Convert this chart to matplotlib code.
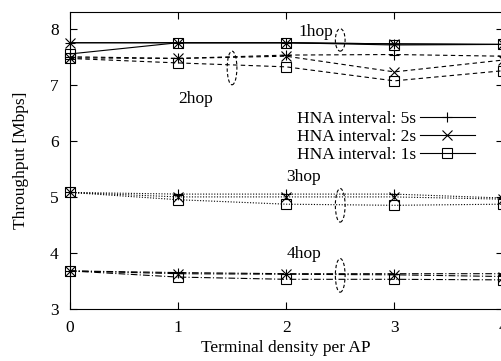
import matplotlib
matplotlib.use("Agg")
import matplotlib.pyplot as plt
from matplotlib.patches import Ellipse
from matplotlib.lines import Line2D

plt.rcParams['font.family'] = ['Liberation Serif', 'DejaVu Serif']
plt.rcParams['font.size'] = 12.5

density = [0, 1, 2, 3, 4]
intervals = ["HNA interval: 5s", "HNA interval: 2s", "HNA interval: 1s"]
markers = ['+', 'x', 's']

# throughput [Mbps] per hop count, one list per HNA interval (5s, 2s, 1s)
hop1 = [[7.75, 7.75, 7.75, 7.73, 7.72],
        [7.75, 7.75, 7.75, 7.73, 7.72],
        [7.55, 7.75, 7.75, 7.71, 7.72]]
hop2 = [[7.50, 7.47, 7.53, 7.54, 7.51],
        [7.48, 7.47, 7.51, 7.23, 7.44],
        [7.47, 7.39, 7.32, 7.07, 7.25]]
hop3 = [[5.08, 5.05, 5.05, 5.05, 4.98],
        [5.08, 5.00, 5.00, 5.00, 4.96],
        [5.08, 4.95, 4.87, 4.85, 4.87]]
hop4 = [[3.68, 3.65, 3.63, 3.63, 3.63],
        [3.68, 3.63, 3.62, 3.61, 3.58],
        [3.68, 3.57, 3.53, 3.53, 3.52]]

hop_labels = ["1hop", "2hop", "3hop", "4hop"]
label_pos = [(2.11, 7.95), (1.0, 6.75), (2.0, 5.36), (2.0, 3.98)]
ellipse_pos = [(2.5, 7.8, 0.4), (1.5, 7.3, 0.6), (2.5, 4.85, 0.6), (2.5, 3.6, 0.6)]

fig = plt.figure(figsize=(5.02, 3.61), dpi=100)
ax = fig.add_axes([0.139, 0.144, 0.862, 0.823])

styles = ['-', (0, (4, 3)), (0, (1, 1.5)), (0, (6, 2, 1, 2))]
for hop, ls in zip([hop1, hop2, hop3, hop4], styles):
    for vals, m in zip(hop, markers):
        ax.plot(density, vals, color='black', linestyle=ls, linewidth=0.8,
                marker=m, markersize=6.5, markerfacecolor='none',
                markeredgewidth=0.8, clip_on=False)

for (tx, ty), txt in zip(label_pos, hop_labels):
    ax.text(tx, ty, txt, ha='left', va='center')

for ex, ey, eh in ellipse_pos:
    ax.add_patch(Ellipse((ex, ey), 0.09, eh, fill=False, edgecolor='black',
                         linestyle=(0, (3, 2)), linewidth=0.8))

handles = [Line2D([], [], color='black', linewidth=0.8, marker=m, markersize=6.5,
                  markerfacecolor='none', markeredgewidth=0.8) for m in markers]
ax.legend(handles, intervals, loc='upper right', bbox_to_anchor=(0.957, 0.697),
          frameon=False, markerfirst=False, handlelength=3.2, labelspacing=0.12,
          borderpad=0, handletextpad=0.2)

ax.set_xlim(0, 4)
ax.set_ylim(3, 8.3)
ax.set_xticks(density)
ax.set_yticks([3, 4, 5, 6, 7, 8])
ax.tick_params(direction='in', top=True, right=True, length=5, width=0.8, pad=8)
ax.set_xlabel("Terminal density per AP", labelpad=3)
ax.set_ylabel("Throughput [Mbps]", labelpad=15)
for s in ax.spines.values():
    s.set_linewidth(0.8)

fig.savefig("out.png", dpi=100)
